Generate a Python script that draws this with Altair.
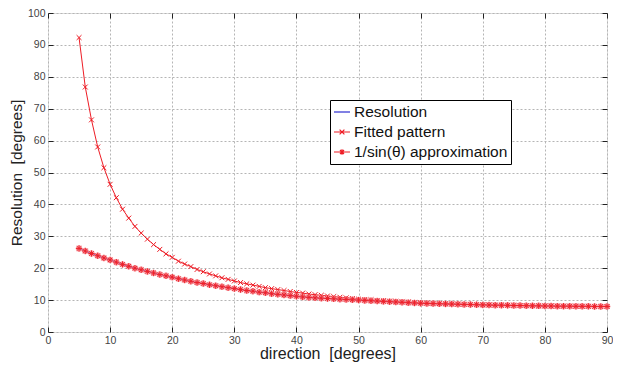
import altair as alt
import pandas as pd

# ---------------- data ----------------
directions = list(range(5, 91))

fitted_pattern = [
    92.3, 76.8, 66.5, 58.0, 51.5, 46.3, 42.1, 38.5, 35.7, 33.1,
    31.0, 29.1, 27.4, 25.9, 24.5, 23.4, 22.2, 21.3, 20.5, 19.6,
    18.9, 18.2, 17.6, 17.0, 16.5, 16.0, 15.5, 15.1, 14.7, 14.3,
    13.9, 13.6, 13.3, 13.0, 12.7, 12.4, 12.2, 11.9, 11.7, 11.5,
    11.3, 11.1, 10.9, 10.7, 10.5, 10.3, 10.2, 10.1, 9.9, 9.8,
    9.7, 9.6, 9.5, 9.4, 9.3, 9.2, 9.1, 9.0, 8.95, 8.9,
    8.8, 8.75, 8.7, 8.65, 8.6, 8.55, 8.5, 8.45, 8.4, 8.4,
    8.35, 8.3, 8.3, 8.25, 8.2, 8.2, 8.15, 8.15, 8.1, 8.1,
    8.1, 8.05, 8.05, 8.0, 8.0, 8.0,
]

approximation = [
    26.2, 25.4, 24.6, 23.9, 23.2, 22.6, 21.9, 21.2, 20.6, 20.0,
    19.5, 19.0, 18.5, 18.0, 17.6, 17.2, 16.7, 16.3, 15.9, 15.5,
    15.2, 14.8, 14.5, 14.2, 13.9, 13.6, 13.3, 13.0, 12.8, 12.5,
    12.3, 12.0, 11.8, 11.6, 11.4, 11.2, 11.0, 10.85, 10.7, 10.6,
    10.5, 10.4, 10.3, 10.2, 10.1, 10.0, 9.9, 9.8, 9.7, 9.6,
    9.5, 9.4, 9.3, 9.2, 9.1, 9.0, 8.95, 8.9, 8.85, 8.8,
    8.75, 8.7, 8.65, 8.6, 8.55, 8.5, 8.45, 8.4, 8.4, 8.35,
    8.3, 8.3, 8.25, 8.2, 8.2, 8.15, 8.15, 8.1, 8.1, 8.1,
    8.05, 8.05, 8.05, 8.0, 8.0, 8.0,
]

resolution = list(approximation)

series_names = ["Resolution", "Fitted pattern", "1/sin(\u03b8) approximation"]
x_ticks = [0, 10, 20, 30, 40, 50, 60, 70, 80, 90]
y_ticks = [0, 10, 20, 30, 40, 50, 60, 70, 80, 90, 100]

# ---------------- styling ----------------
RED = "#ee1c25"
BLUE = "#2a2ad0"
FONT = "Liberation Sans"

df = pd.DataFrame({
    "direction": directions,
    "fitted": fitted_pattern,
    "approx": approximation,
    "resolution": resolution,
})

xscale = alt.Scale(domain=[0, 90], nice=False, zero=False)
yscale = alt.Scale(domain=[0, 100], nice=False)

common_axis = dict(offset=-5, tickSize=5, domain=False, tickColor="#222",
                   tickWidth=1)

x_bottom = alt.Axis(orient="bottom", values=x_ticks, grid=True,
                    gridDash=[2, 2], gridColor="#b5b5b5", labelPadding=3,
                    labelFont=FONT, labelFontSize=10.5, labelColor="#444",
                    labelFlush=False, labelOverlap=False,
                    title="direction\u00a0 [degrees]", titleFont=FONT,
                    titleFontSize=16, titleFontWeight="normal",
                    titleColor="#222", titlePadding=0, **common_axis)
y_left = alt.Axis(orient="left", values=y_ticks, grid=True,
                  gridDash=[2, 2], gridColor="#b5b5b5", labelPadding=3,
                  labelFont=FONT, labelFontSize=10.5, labelColor="#444",
                  labelFlush=False, labelOverlap=False,
                  title="Resolution\u00a0 [degrees]", titleFont=FONT,
                  titleFontSize=15.5, titleFontWeight="normal",
                  titleColor="#222", titlePadding=3, **common_axis)
x_top = alt.Axis(orient="top", values=x_ticks, grid=False, labels=False,
                 title=None, **common_axis)
y_right = alt.Axis(orient="right", values=y_ticks, grid=False, labels=False,
                   title=None, **common_axis)

base = alt.Chart(df)

approx_line = base.mark_line(color=RED, strokeWidth=1).encode(
    x=alt.X("direction:Q", scale=xscale, axis=x_bottom),
    y=alt.Y("approx:Q", scale=yscale, axis=y_left),
)

res_line = base.mark_line(color=BLUE, strokeWidth=1).encode(
    x=alt.X("direction:Q", scale=xscale, axis=x_top),
    y=alt.Y("resolution:Q", scale=yscale, axis=y_right),
)

fitted_line = base.mark_line(color=RED, strokeWidth=1).encode(
    x=alt.X("direction:Q", scale=xscale, axis=None),
    y=alt.Y("fitted:Q", scale=yscale, axis=None),
)

X_PATH = "M-1,-1L1,1M-1,1L1,-1"
STAR_PATH = "M-1,0H1M0,-1V1M-0.7,-0.7L0.7,0.7M-0.7,0.7L0.7,-0.7"

fitted_pts = base.mark_point(shape=X_PATH, size=24, filled=False,
                             strokeWidth=1, color=RED, opacity=1).encode(
    x=alt.X("direction:Q", scale=xscale, axis=None),
    y=alt.Y("fitted:Q", scale=yscale, axis=None),
)

approx_blob = base.mark_point(shape="circle", size=42, filled=True,
                              color="#f58a92", opacity=0.8).encode(
    x=alt.X("direction:Q", scale=xscale, axis=None),
    y=alt.Y("approx:Q", scale=yscale, axis=None),
)

approx_star = base.mark_point(shape=STAR_PATH, size=40, filled=False,
                              strokeWidth=1, color=RED, opacity=0.95).encode(
    x=alt.X("direction:Q", scale=xscale, axis=None),
    y=alt.Y("approx:Q", scale=yscale, axis=None),
)

LEG_PATHS = [
    "M-1,0H1",
    "M-1,0H1M-0.3,-0.3L0.3,0.3M-0.3,0.3L0.3,-0.3",
    "M-1,0H1M-0.35,0H0.35M0,-0.35V0.35M-0.25,-0.25L0.25,0.25M-0.25,0.25L0.25,-0.25",
]

legend = alt.Legend(orient="none", legendX=282, legendY=87, title=None,
                    labelFont=FONT, labelFontSize=15.5, labelColor="#111",
                    symbolSize=256, symbolStrokeWidth=1.2,
                    strokeColor="#000", fillColor="white", padding=3,
                    rowPadding=2, labelOffset=3, cornerRadius=0,
                    labelLimit=300)

legend_layer = base.transform_calculate(series="'Resolution'").transform_filter(
    "false").mark_point(filled=False, opacity=1).encode(
    x=alt.X("direction:Q", scale=xscale, axis=None),
    y=alt.Y("approx:Q", scale=yscale, axis=None),
    color=alt.Color("series:N",
                    scale=alt.Scale(domain=series_names, range=[BLUE, RED, RED]),
                    legend=legend),
    shape=alt.Shape("series:N",
                    scale=alt.Scale(domain=series_names, range=LEG_PATHS),
                    legend=legend),
)

chart = alt.layer(
    approx_line, res_line, fitted_line, fitted_pts, approx_blob,
    approx_star, legend_layer,
).resolve_axis(x="independent", y="independent").properties(
    width=559, height=319, autosize="none",
    padding={"left": 40, "top": 5, "right": 6, "bottom": 32},
).configure_view(stroke="#000", strokeWidth=1).configure(background="white")

chart.save("out.html", embed_options={"renderer": "svg", "actions": False})
